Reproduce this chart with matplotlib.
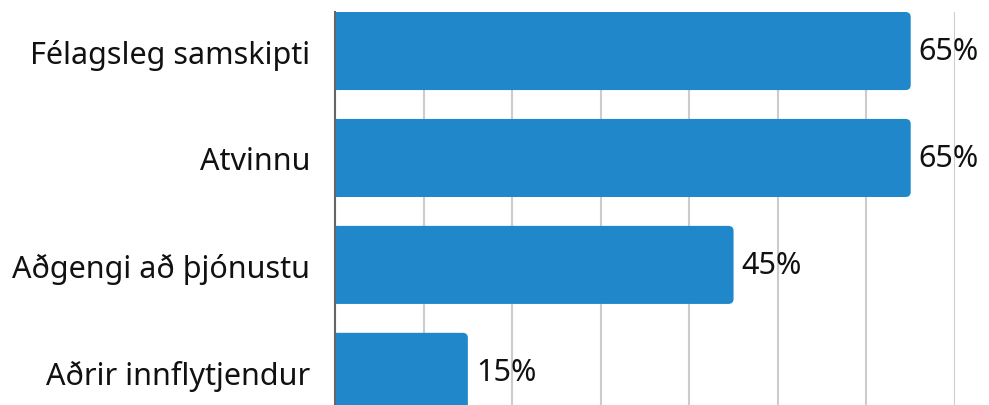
import matplotlib
matplotlib.use("Agg")
import matplotlib.pyplot as plt
from matplotlib.patches import FancyBboxPatch

categories = ["Félagsleg samskipti", "Atvinnu", "Aðgengi að þjónustu", "Aðrir innflytjendur"]
values = [65, 65, 45, 15]

BAR_COLOR = "#2088ca"
plt.rcParams["font.family"] = ["Noto Sans", "DejaVu Sans"]

fig = plt.figure(figsize=(9.89, 4.06), dpi=100)
ax = fig.add_axes([335 / 989, 0.0, (955 - 335) / 989, (406 - 13) / 406])

height = 0.73
radius = 0.6
aspect = (5 / 107) / radius
for i, v in enumerate(values):
    y0 = i - height / 2
    # start left of zero so the left rounding is clipped away by the axes
    ax.add_patch(FancyBboxPatch((-2, y0), v + 2, height,
                                boxstyle=f"round,pad=0,rounding_size={radius}",
                                mutation_aspect=aspect, fc=BAR_COLOR, ec="none", zorder=3))
    ax.text(v + 0.9, i, f"{v}%", va="center", ha="left", fontsize=22,
            color="#111111", clip_on=False, zorder=4)

ax.set_xlim(0, 70)
ax.set_ylim(3.31, -0.365)
ax.set_yticks(range(len(categories)))
ax.set_yticklabels(categories, fontsize=22, color="#111111")
ax.set_xticks(range(0, 71, 10))
ax.tick_params(axis="y", length=0, pad=18)
ax.tick_params(axis="x", length=0, labelbottom=False)
ax.grid(axis="x", color="#cccccc", linewidth=1.5, zorder=0)
for s in ["top", "right", "bottom"]:
    ax.spines[s].set_visible(False)
ax.spines["left"].set_color("#666666")
ax.spines["left"].set_linewidth(1.5)
ax.spines["left"].set_zorder(5)

fig.savefig("out.png", dpi=100)
